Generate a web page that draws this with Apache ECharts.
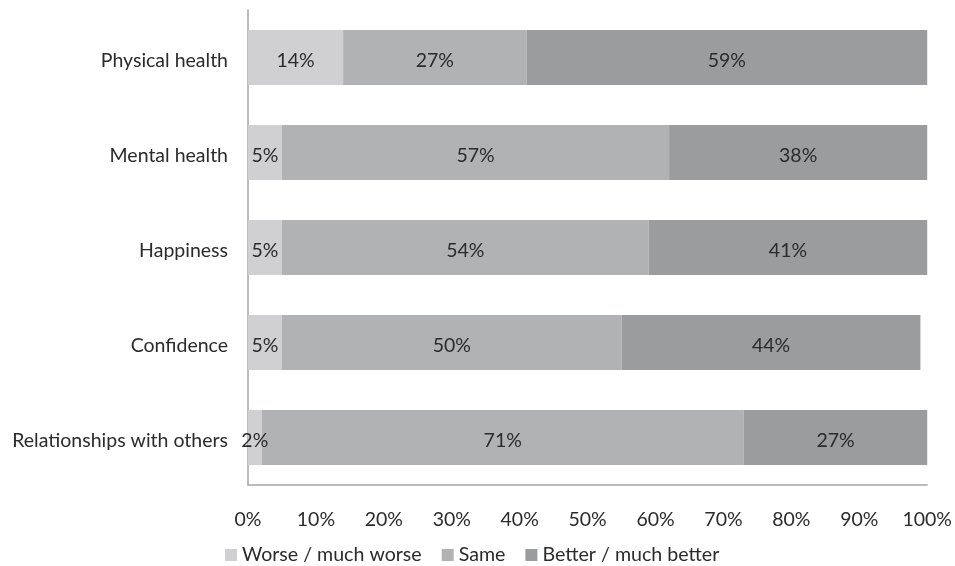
<!DOCTYPE html>
<html><head><meta charset="utf-8">
<script src="https://cdn.jsdelivr.net/npm/echarts@6/dist/echarts.min.js"></script>
<style>html,body{margin:0;padding:0;background:#fff}#c{width:955px;height:566px}</style>
</head><body><div id="c"></div>
<script>
const categories = ["Physical health","Mental health","Happiness","Confidence","Relationships with others"];
const worse = [14,5,5,5,2];
const same = [27,57,54,50,71];
const better = [59,38,41,44,27];
const seriesNames = ["Worse / much worse","Same","Better / much better"];
const xTicks = [0,10,20,30,40,50,60,70,80,90,100];

const FONT = "Lato, 'Open Sans', sans-serif";
const colors = ["#d0d0d2","#b1b2b4","#9b9c9e"];
const chart = echarts.init(document.getElementById('c'), null, {renderer:'canvas'});
function mk(name, data, color){
  return {name, type:'bar', stack:'t', data, barWidth:'58%',
    itemStyle:{color},
    label:{show:true, position:'inside', offset:[0,3], formatter:'{c}%', color:'#2b2b2b', fontFamily:FONT, fontSize:19.5}};
}
chart.setOption({
  animation:false,
  textStyle:{fontFamily:FONT},
  legend:{top:545, left:225, itemWidth:12, itemHeight:12, itemGap:20, padding:0,
    icon:'rect', textStyle:{fontSize:19.6, color:'#2b2b2b', fontFamily:FONT},
    data:seriesNames},
  grid:{left:248, right:27, top:10, bottom:81, containLabel:false},
  xAxis:{type:'value', min:0, max:100, interval:10,
    axisLine:{show:true, lineStyle:{color:'#a6a6a6', width:1.5}},
    axisTick:{show:false}, splitLine:{show:false},
    axisLabel:{margin:25, fontSize:19.5, color:'#2b2b2b', fontFamily:FONT,
      formatter:v => xTicks.includes(v) ? v+'%' : ''}},
  yAxis:{type:'category', inverse:true, data:categories,
    axisLine:{show:true, lineStyle:{color:'#a6a6a6', width:1.5}},
    axisTick:{show:false},
    axisLabel:{margin:20, fontSize:19.5, color:'#2b2b2b', fontFamily:FONT,
      formatter:v => '{a|' + v + '}', rich:{a:{fontSize:19.5, fontFamily:FONT, color:'#2b2b2b', padding:[7,0,0,0]}}}},
  series:[mk(seriesNames[0],worse,colors[0]), mk(seriesNames[1],same,colors[1]), mk(seriesNames[2],better,colors[2])]
});
</script></body></html>
